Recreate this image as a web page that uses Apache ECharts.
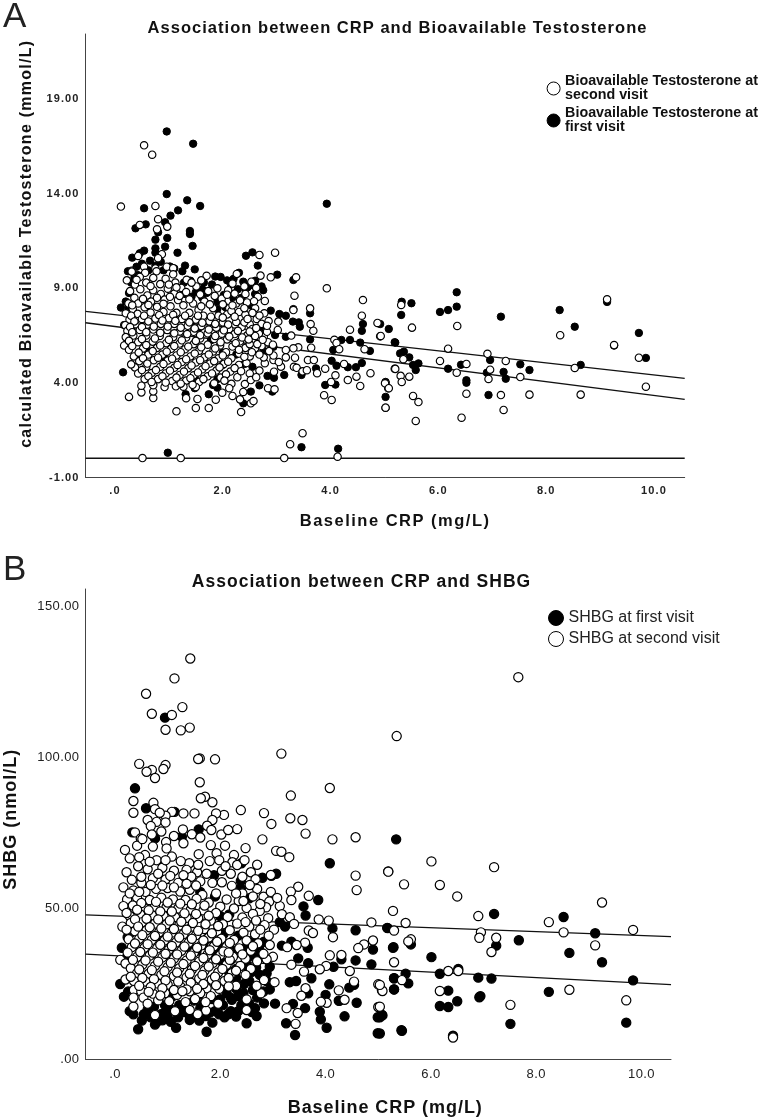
<!DOCTYPE html>
<html><head><meta charset="utf-8">
<style>html,body{margin:0;padding:0;background:#fff}#c{width:762px;height:1119px}</style>
<script src="https://cdn.jsdelivr.net/npm/echarts@6/dist/echarts.min.js"></script>
</head><body><div id="c"></div>
<script>
const xTicks=[0,2,4,6,8,10];
const yTicksA=[-1,4,9,14,19];
const yTicksB=[0,50,100,150];
const titleA='Association between CRP and Bioavailable Testosterone';
const titleB='Association between CRP and SHBG';
const nameAW='Bioavailable Testosterone at second visit';
const nameAB='Bioavailable Testosterone at first visit';
const nameBB='SHBG at first visit';
const nameBW='SHBG at second visit';
const lineAUpper=[[-0.547,7.78],[10.57,4.24]];
const lineALower=[[-0.547,7.18],[10.57,3.13]];
const lineAZero=[[-0.547,0.02],[10.57,0.02]];
const lineBUpper=[[-0.56,47.9],[10.56,40.7]];
const lineBLower=[[-0.56,34.9],[10.56,24.8]];

const blackA=[[.96,17.29],[1.45,16.64],[.96,13.98],[1.34,13.65],[1.58,13.35],[3.93,13.47],[.54,13.23],[1.17,13.12],[1.03,12.84],[.93,12.49],[.57,12.38],[.38,12.17],[1.39,12.03],[1.39,11.87],[.8,11.96],[.97,11.66],[.75,11.57],[1.44,11.24],[.93,11.2],[.75,11.11],[.54,10.99],[.46,10.85],[1.16,10.88],[.75,10.88],[.32,10.62],[.65,10.46],[2.43,10.72],[2.55,10.9],[2.65,10.2],[1.48,10],[.4,10.14],[.75,10.2],
[.98,.31],[3.46,.6],[4.14,.52],
[4.92,7.11],[5.08,6.85],[5.19,6.15],[5.29,5.56],[5.36,5.65],[5.46,5.35],[5.31,7.59],[5.32,8.29],[5.5,8.21],[5.53,4.95],[5.63,5.03],[5.58,4.68],[5.02,4.05],[5.02,3.26],[6.03,7.75],[6.18,7.85],[6.34,8.03],[6.34,8.79],[6.18,4.75],[6.42,4.96],[6.52,4.14],[6.52,4.01],[6.93,3.36],[6.9,4.54],[6.96,5.21],[7.16,7.5],[7.21,4.58],[7.25,4.22],[7.52,4.98],[7.69,4.68],[8.25,7.85],[8.53,6.97],[8.64,4.95],[9.13,8.28],[9.26,5.97],[9.72,6.64],[9.85,5.32],
[3.01,9.72],[3.31,9.44],[2.89,7.82],[3.05,7.64],[3.17,7.55],[3.31,7.9],[3.3,7.24],[3.43,6.97],[3.41,7.2],[3.62,7.68],[3.62,6.3],[3.17,6.44],[2.97,6.53],[2.94,5.91],[2.76,5.69],[2.75,6.97],[2.7,6.8],[5.2,6.13],[4.6,7.11],[4.58,6.75],[4.2,6.27],[4.36,6.27],[4.55,6.13],[4.05,5.74],[4.73,5.69],[4.02,5.17],[4.11,4.91],[4.32,4.83],[4.47,4.83],[4.58,5.05],[3.9,3.89],[4.09,3.91],[3.73,4.77],[3.46,4.42],[3.14,4.42],[2.95,4.27],[2.83,4.37],[2.68,3.87],[2.52,3.54],[2.92,3.54],[2.38,2.92],[1.74,3.4],[1.31,3.4],[1.48,3.72],[1.82,3.89],[1.9,3.75],[.71,3.92],[.15,4.56],[.11,7.98],[.17,7.06],
[2.3,9.82],[2.2,9.5],[2.38,9.35],[2.5,9.15],[2.46,9.05],[2.15,9.2],[1.86,9.62],[1.96,9.6],[1.8,9.2],[1.62,8.95],[1.5,8.8],[1.42,8.55],[1.62,8.5],[1.9,8.3],[2.02,8.65],[2.2,8.45],[2.35,8.5],[2.52,8.1],[2.05,8.0],[1.9,7.9],[.3,9.3],[.26,8.75],[.2,8.3],[.42,9.7],[.62,9.95],[1.1,10.05],[.9,9.95],[1.25,9.9],[.25,8.0],[.3,6.9],[.22,6.1],[.6,5.7],[1.42,7.05],[1.55,6.9],[.3,6.0],[.92,5.35],[1.48,4.3],[2.0,4.95],[1.78,6.25],[2.55,4.85],[2.4,5.0],[2.25,5.5],[1.9,4.2],[2.0,5.6],
[.24,9.9],[.5,10.3],[.85,10.4],[1.02,10.15],[1.3,10.2],[.36,9.55],[1.4,9.4],[1.65,9.3],[1.28,9.3],[2.08,9.42],[2.6,9.4],[2.72,9.1],[2.6,8.7],[2.75,8.9],[1.7,8.75],[1.3,8.7],[2.42,8.95],[2.28,8.95]];

const whiteA=[[.54,16.56],[.69,16.06],[.11,13.32],[.75,13.35],[.8,12.65],[.46,12.35],[.78,12.12],[.97,12.26],[2.97,10.88],[2.68,10.76],[.87,10.8],[.43,10.71],[.8,10.59],[.96,10.14],[1.08,10.06],[.54,10.14],[.75,10.05],[.31,9.93],
[.51,.03],[1.22,.03],[3.14,.03],[4.13,.1],[3.25,.76],[3.48,1.34],
[.26,3.26],[1.14,2.5],[1.5,2.67],[1.74,2.67],[2.34,2.46],[1.87,3.11],[1.53,3.15],[1.32,3.19],[2.18,3.31],[2.32,3.13],[2.52,2.92],[2.57,3.04],[1.99,3.48],[.49,3.5],[.71,3.2],[.71,3.55],[2.84,3.72],[2.96,3.66],[3.88,3.35],[4.02,3.1],[5.02,2.69],[5.07,3.72],[5.02,4.0],[4.55,3.84],[4.32,4.15],[4.48,4.33],[4.74,4.51],[4.09,4.4],[4.01,4.05],[4.25,5],[5.19,4.75],
[3.93,9],[4.6,8.38],[4.58,7.55],[4.87,7.17],[4.92,6.46],[4.36,6.81],[4.07,6.28],[4.11,6.11],[4.16,5.78],[4.63,5.78],[3.68,6.76],[3.63,7.11],[3.62,7.94],[3.33,8.61],[3.36,9.58],[3.31,7.85],[2.78,8.33],[2.77,7.68],[3.03,7.24],[2.85,7.27],[3.02,6.8],[3.27,6.5],[2.76,6.44],[2.7,9.67],[2.89,9.58],
[3.4,5.88],[3.31,5.83],[3.17,5.74],[3.64,5.86],[3.17,5.35],[3.34,5.33],[3.58,5.21],[3.69,5.21],[3.32,4.85],[3.37,4.8],[3.48,4.61],[3.56,4.67],[3.75,4.51],[3.9,4.75],[3.08,4.86],[2.95,4.59],[2.94,5.21],[3.04,5.1],[2.94,5.45],[2.78,5.04],[2.76,5.35],[2.68,4.65],[2.6,5.83],[2.44,5.05],[2.41,3.94],[2.27,4.3],
[4.93,6.48],[5.51,6.92],[5.31,8.12],[5.35,5.25],[5.2,4.74],[5.3,4.37],[5.46,4.33],[5.32,4.05],[5.01,3.98],[5.08,3.72],[5.53,3.31],[5.63,2.99],[5.02,2.69],[5.58,1.99],[6.35,7.01],[6.18,5.81],[6.03,5.16],[6.52,5],[6.34,4.54],[6.52,3.43],[6.43,2.16],[6.91,5.54],[7.25,5.16],[6.96,4.7],[6.93,4.21],[7.52,4.31],[7.16,3.36],[7.69,3.38],[7.21,2.57],[8.26,6.52],[8.53,4.79],[8.64,3.38],[9.13,8.42],[9.26,6],[9.72,5.33],[9.85,3.8],
[.31,9.88],[.56,9.82],[.77,9.9],[1.08,9.74],[.46,9.6],[.71,9.55],[.94,9.5],[.22,9.42],[.37,9.2],[.58,9.3],[.84,9.22],[1.12,9.3],[1.33,9.45],[1.7,9.66],[2.26,9.76],[2.53,9.35],[1.51,9.1],[1.23,9.02],[.98,8.98],[.71,8.9],[.47,8.95],[.28,8.85],[.36,8.5],[.6,8.62],[.85,8.7],[1.1,8.72],[1.32,8.8],[1.73,8.85],[2.1,8.9],[2.42,8.7],[2.65,8.55],[2.25,8.2],[2.45,8.25],[2.6,7.95],[.25,8.2],[.43,8.2],[.67,8.3],[.92,8.4],[1.17,8.38],[1.45,8.2],[1.66,8.3],[1.98,8.45],[.33,7.9],[.55,8],[.78,8.02],[1.03,8.05],[1.27,8.1],[1.55,7.85],[1.82,7.95],[2.12,7.95],[2.3,7.75],[.2,7.68],[.42,7.65],[.66,7.72],[.9,7.75],[1.14,7.7],[1.38,7.7],[1.64,7.55],[1.92,7.55],[2.08,7.62],[2.42,7.6],[.27,7.35],[.5,7.38],[.75,7.4],[1,7.42],[1.24,7.38],[1.5,7.35],[1.75,7.25],[2.0,7.2],[2.25,7.22],[2.5,7.1],[2.63,7.38],[.19,7.05],[.38,7.1],[.6,7.08],[.85,7.12],[1.1,7.12],[1.35,7.02],[1.6,7],[1.88,6.92],[2.12,6.85],[2.35,6.95],[2.55,6.85],[.23,6.75],[.46,6.8],[.71,6.82],[.97,6.8],[1.2,6.72],[1.46,6.7],[1.72,6.62],[1.98,6.6],[2.22,6.58],[2.45,6.5],[2.67,6.6],[.2,6.42],[.34,6.5],[.58,6.5],[.83,6.48],[1.08,6.42],[1.32,6.4],[1.58,6.35],[1.84,6.32],[2.08,6.3],[2.32,6.2],[2.58,6.25],[.17,5.98],[.43,6.15],[.7,6.18],[.95,6.1],[1.2,6.08],[1.46,6.05],[1.72,6.02],[1.95,5.98],[2.18,5.92],[2.42,5.85],[.26,5.75],[.52,5.82],[.78,5.85],[1.04,5.8],[1.3,5.78],[1.56,5.7],[1.82,5.66],[2.06,5.62],[2.3,5.55],[.35,5.4],[.62,5.5],[.88,5.5],[1.14,5.45],[1.4,5.4],[1.66,5.35],[1.92,5.3],[2.16,5.3],[2.5,5.4],[.45,5.15],[.72,5.2],[.98,5.18],[1.24,5.1],[1.5,5.08],[1.76,5.02],[2.02,5],[2.3,4.95],[.37,4.82],[.58,4.85],[.84,4.85],[1.1,4.8],[1.36,4.78],[1.62,4.72],[1.88,4.65],[2.14,4.6],[2.5,4.5],[.43,4.5],[.68,4.52],[.94,4.5],[1.2,4.42],[1.46,4.4],[1.72,4.35],[1.96,4.28],[.55,4.2],[.8,4.2],[1.06,4.1],[1.32,4.12],[1.56,4.05],[1.84,3.98],[.49,3.85],[.71,3.88],[.92,3.78],[1.13,3.82],[1.27,3.8],[1.5,3.78],
[.4,9.45],[.66,9.12],[1.0,9.2],[1.2,8.6],[.52,8.44],[.78,8.5],[1.02,8.55],[.32,8.1],[.62,8.12],[.9,8.18],[1.38,8.42],[1.6,8.05],[1.76,8.15],[2.0,8.15],[2.16,7.8],[.3,7.55],[.54,7.55],[.82,7.58],[1.08,7.6],[1.3,7.55],[1.54,7.55],[1.78,7.5],[2.0,7.45],[2.22,7.5],[.36,7.25],[.62,7.25],[.88,7.3],[1.12,7.28],[1.38,7.2],[1.62,7.18],[1.86,7.12],[2.1,7.08],[2.4,7.2],[.28,6.95],[.5,6.95],[.72,6.98],[.98,6.98],[1.22,6.92],[1.48,6.88],[1.74,6.82],[2.02,6.78],[2.28,6.75],[.32,6.68],[.58,6.68],[.84,6.65],[1.1,6.62],[1.34,6.58],[1.58,6.52],[1.86,6.48],[2.12,6.45],[2.36,6.4],[.26,6.22],[.5,6.32],[.74,6.35],[1.0,6.28],[1.24,6.25],[1.5,6.22],[1.96,6.15],[2.24,6.1],[2.5,6.05],[.32,5.95],[.58,6],[.84,5.98],[1.1,5.95],[1.36,5.92],[1.6,5.88],[1.86,5.82],[2.3,5.75],[.44,5.6],[.7,5.68],[.96,5.65],[1.22,5.62],[1.48,5.55],[1.74,5.5],[2.0,5.45],[2.4,5.38],[.52,5.3],[.8,5.33],[1.06,5.28],[1.32,5.25],[1.58,5.2],[1.84,5.15],[2.1,5.12],[.3,4.98],[.6,5.02],[.9,5.0],[1.16,4.95],[1.42,4.92],[1.68,4.88],[1.94,4.82],[2.22,4.78],[.5,4.68],[.76,4.68],[1.02,4.65],[1.28,4.6],[1.54,4.55],[1.8,4.5],[2.06,4.45],[.62,4.35],[.88,4.35],[1.14,4.28],[1.4,4.25],[1.64,4.2],[.68,4.05],[.94,4.02],[1.22,3.96],[1.44,3.9],
[2.03,4.12],[2.16,3.95],[2.34,4.62],[2.52,4.15],[2.38,3.52],[2.62,4.3],[2.12,3.72],[2.86,5.68],[2.68,5.5],[2.54,5.62],[2.72,5.95],[2.84,6.15],[2.64,6.05],[2.48,6.3],[2.74,6.28],[2.93,6.02],[2.6,6.48],[2.82,6.7],[2.5,6.72],[2.72,7.12],[2.62,6.9],[2.82,7.02],[2.46,7.38],[2.68,7.56],[2.55,7.7],[2.4,7.95],[2.18,8.1],[2.32,8.36],[2.08,8.66],[2.22,8.72],[1.85,8.6],[1.58,8.68],[1.9,9.0],[2.18,9.25],[1.42,9.3],[1.14,9.05],[2.58,8.32],[2.4,9.1],[2.62,9.02],[1.6,9.42]];

const blackB=[[.95,113.2],[.38,89.8],[.59,83.2],[1.13,82],[1.59,76.2],[1.27,73.8],[.76,73.2],[.33,75.2],[5.34,72.9],
[.44,10],[.76,11.6],[.51,12.9],[.35,15],[.28,16],[1.16,10.5],[1.06,12.5],[.9,13],[1.74,9.2],[1.42,13.1],[1.6,12.9],[1.85,12.2],[1.98,15],[1.27,15.7],[.87,15],[2.5,12],[2.69,14.4],[2.2,16],[2.34,16],[2.6,15.7],[2.83,18.6],[3.04,18.5],[2.22,19.8],[2.34,21],[2.44,22],[2.3,23.5],[2.2,20.5],[2.05,18],[1.9,16],[1.62,17],[1.5,19.5],[.74,17.5],[1.07,16.5],[.62,16.5],[.95,15.5],[1.68,18.5],[1.4,15],
[3.25,12],[3.42,8.1],[3.38,18.4],[3.61,17],[3.89,15.8],[3.91,13.3],[4.02,10.5],[4.26,19.4],[4.36,14.3],[4.59,18.8],[4.99,8.7],[4.99,14],[5.07,14.8],[5.44,9.7],
[4.08,65],[3.06,61.5],[2.97,60.8],[2.8,60.2],[2.39,59.1],[2.39,56.6],[2.55,53.4],[3.86,52.8],[3.58,50.7],[3.62,47.7],[3.13,45.5],[3.23,44],[4.13,43.4],[4.57,42.8],[5.17,43.6],[4.9,36.4],[5.29,37.2],[4.57,32.8],[4.87,31.5],[4.3,33.2],[4.15,30.7],[3.67,31.9],[3.48,33.5],[3.17,37.7],[3.35,39],[3.66,37],[2.83,39],[2.75,34],[2.6,34.2],[2.94,30.7],[2.88,28.5],[2.75,28],[2.94,23.2],[5.3,26.9],[5.3,23.2],[4.54,24.7],[4.45,23.8],[4.07,24.9],[4,21.4],[4.25,19.5],[3.73,26.9],[3.67,21.9],[3.32,25.6],[3.44,26],[.1,25],[.17,20.8],[.13,37],[.21,33.5],[.24,40.5],
[2.17,48],[2,47.5],[1.9,54],[1.62,55.5],[1.3,59.5],[1.88,61],[2.4,65],[1.42,37],[1.55,36],[1.9,34],[2.3,30],[2.55,26],[2.3,27],[2.05,32],[1.75,40],[.62,45],[.3,42],[.9,40],
[7.2,48.2],[8.52,47.2],[5.18,43.5],[5.28,37],[5.62,38.1],[7.24,37.7],[7.67,39.5],[9.12,41.8],[8.63,35.3],[9.25,32.2],[6.01,33.9],[6.17,28.4],[5.52,28.4],[5.3,26.9],[5.57,25.2],[5.3,23.2],[6.9,27.1],[7.15,26.8],[9.84,26.2],[6.33,22.8],[8.24,22.4],[6.5,19.3],[6.17,17.7],[6.33,17.4],[6.94,21],[6.92,20.6],[5.08,14.6],[5.03,14],[5.45,9.5],[5.03,8.6],[7.51,11.8],[9.71,12.2],[6.42,7.9],[6.52,30],
[.55,15],[.68,14],[.82,12.8],[1.0,14.2],[1.2,14],[1.32,15.8],[1.52,14.2],[1.72,14.4],[1.8,15.5],[2.08,14],[2.15,15],[2.3,14.2],[2.4,18],[2.55,18.5],[2.66,17],[2.12,22],[2.0,20],[2.45,25],[2.62,23],[2.7,20.5],[2.82,22.5],[2.88,26],[2.6,29],[2.45,31],[2.2,33],[1.95,36],[1.68,38],[.95,18],[1.22,18],[1.6,21.5],[1.85,20],[1.1,21],[.25,22.5],
[2.06,41.5],[2.34,41],[2.62,39.5],[2.48,37],[2.74,36.5],[2.02,37],[2.28,36],[2.5,31.5],[2.68,30.5],[2.14,29.5]];

const whiteB=[[1.43,132.8],[1.13,126.2],[.59,121.1],[1.28,116.7],[1.08,114.1],[.7,114.5],[1.42,109.9],[1.25,109],[.96,109.2],[3.16,101.3],[1.61,99.7],[1.58,99.5],[1.9,99.4],[.46,97.9],[.96,97.5],[.92,96.2],[.7,95.9],[.6,95.3],[.76,93.2],[1.61,91.8],[4.08,89.9],[3.34,87.4],[1.71,87],[1.63,86.5],[1.85,85.2],[.35,85.6],[.73,85],[.76,82.9],[2.39,82.6],[2.83,81.6],[2.07,81],[1.92,81.5],[1.51,81.5],[1.3,81.5],[1.08,82],[.35,81.7],[.96,80.7],[.85,81.7],[.62,79.3],[.79,78.7],[.96,78.5],[.68,77.3],[3.33,79.9],[3.56,79.3],[2.97,78],[1.85,79.3],[1.75,77.4],[1.83,76],[2.32,76.3],[1.29,76.2],[1.46,74.6],[.38,75.2],[3.62,74.8],[4.57,73.6],[4.13,72.9],[2.8,72.9],[.49,73.2],[.97,72],
[3.06,69.1],[3.16,68.8],[3.31,67],[2.09,70.8],[1.82,71],[1.93,68.3],[1.59,68],[2.26,67.7],[2.23,65.3],[2.32,64.4],[1.8,65.7],[1.41,65],[1.25,65.7],[.28,66.6],[.19,69.4],[.42,70.8],[.57,67.7],[.72,70.5],[.98,69.9],[1.08,67.2],[.79,66],[1.3,71.6],
[2.58,62],[2.67,59.7],[2.96,61.1],[2.03,62.5],[2.2,61.5],[2.03,58.7],[4.57,60.9],[4.59,56.1],[5.19,62.3],[3.48,57.2],[3.34,55.6],[3.68,54.2],[3.35,52.8],[2.82,53.9],[2.93,52.3],[2.87,50.4],[3.13,50.8],[2.75,49.2],[3.17,48.1],[3.32,47.1],[2.91,46.8],[3.4,44.9],[3.87,46.4],[4.06,46],[4.87,45.4],[5.28,49.2],[5.3,42.7],[3.68,42.7],[3.76,41.9],[4.14,40.5],[4.9,39.4],[4.73,38.1],[4.62,36.9],[3.61,38.7],[3.45,37.9],[3.27,37.2],[2.94,37.9],[4.08,34.5],[4.3,34.6],[3,34],[2.88,33.2],[3.35,31.4],[5.3,32.2],[4.01,31],[3.89,29.9],[3.59,29.1],[4.46,29.3],[4.54,25.8],[5,24.9],[5.07,22.9],[4.25,22.9],[4.36,19.8],[4.02,18.8],[3.91,19.1],[5,17.4],[3.26,17],[3.47,15.4],[3.43,11.8],[3.62,23.6],[3.54,21.1],[3.03,25.6],[2.83,26.3],[2.77,21.9],[2.69,24.4],[2.5,19.9],[2.5,16.4],[1.73,16.2],[1.57,15],[1.42,16.4],[1.34,19],[.76,14.7],[1.03,19.3],[.35,17.5],
[7.66,126.6],[5.35,107.1],[5.19,62.2],[6.01,65.6],[7.2,63.7],[5.49,58],[6.17,57.8],[6.5,54],[5.52,45.2],[5.62,39.8],[5.57,39.1],[6.9,47.5],[6.95,42.1],[6.92,40.3],[7.24,40.3],[7.15,35.6],[8.24,45.5],[8.52,42.1],[9.25,52],[9.12,37.8],[9.84,42.9],[6.33,29.3],[6.52,29.3],[5.45,26.3],[6.17,22.7],[5.08,22.7],[5.03,24.7],[5.03,17.5],[8.63,23.1],[7.51,18.1],[9.71,19.6],[6.42,7.3],
[.22,62],[.44,64],[.62,63],[.9,63.5],[1.12,62.5],[1.36,62.8],[1.56,62],[1.74,61.5],[1.45,60.5],[.32,59.5],[.5,58.5],[.72,60],[.96,59.6],[1.2,58.5],[1.62,59],[1.85,58.5],[2.22,57.5],[2.42,55],[.16,57],[.35,56],[.58,55.5],[.78,56.5],[1,56.8],[1.24,55.6],[1.42,56.2],[1.66,54.5],[1.92,55],[2.12,53],[2.35,52.5],[.23,53],[.42,53.6],[.66,52.8],[.88,53.6],[1.1,53],[1.34,52.8],[1.55,53.2],[1.78,52],[2,50.6],[2.26,50],[2.5,50.2],[.16,50.8],[.34,51],[.55,50.2],[.76,50.6],[.98,50.5],[1.2,50],[1.44,49.6],[1.68,49.4],[1.92,48.5],[2.14,47.2],[2.42,47],[2.62,48.2],[.28,47.5],[.48,48],[.7,47.8],[.92,47.6],[1.14,47.2],[1.36,46.9],[1.58,46.8],[1.82,46],[2.05,44.8],[2.32,45],[2.55,44],[.14,44],[.3,45.2],[.52,45.5],[.76,45],[.98,44.8],[1.22,44.4],[1.46,44],[1.7,43.2],[1.94,42.4],[2.18,42.8],[2.44,42],[2.66,41.5],[.38,42.5],[.6,42.8],[.84,42.2],[1.08,42],[1.3,41.5],[1.54,41.2],[1.78,40.4],[2.02,40],[2.26,39.6],[2.5,39.4],[2.72,38.5],[.26,39.8],[.46,40],[.7,39.6],[.94,39.4],[1.16,38.8],[1.4,38.7],[1.64,37.8],[1.88,37.5],[2.12,37.3],[2.36,36.8],[2.58,36],[.32,37.2],[.56,37],[.8,36.8],[1.02,36.3],[1.26,36],[1.5,35.4],[1.76,34.8],[2,34.6],[2.24,34],[2.48,33.4],[2.7,32.5],[.1,33],[.2,31.8],[.42,34],[.66,34.4],[.9,33.8],[1.12,33.4],[1.36,32.8],[1.6,32.4],[1.86,32],[2.12,31.4],[2.38,31],[2.58,30],[.3,30.2],[.52,31.4],[.76,31],[1,30.6],[1.22,30.2],[1.46,29.8],[1.7,29.4],[1.96,28.8],[2.22,28.6],[2.48,28],[.42,28.6],[.64,28.4],[.88,28],[1.12,27.6],[1.36,27.2],[1.6,26.8],[1.84,26.4],[2.08,26],[.2,26.5],[.36,26],[.58,25.8],[.8,25.2],[1,24.8],[1.24,24.2],[1.5,24.2],[1.74,23.6],[1.98,23.4],[2.3,24.4],[.36,23],[.5,22.5],[.72,21.8],[.95,22],[1.18,21.4],[1.42,22.6],[1.62,22],[1.82,21],[.35,20.5],[.54,20.5],[.82,19.6],
[.5,60.5],[.82,61.5],[1.05,60.8],[1.3,61],[.28,55],[.46,55.5],[.68,57.8],[.9,57.6],[1.12,57],[1.36,58.2],[1.54,57.6],[.5,51.8],[.78,52.2],[1,52],[1.24,51.6],[1.46,51.4],[1.7,51],[.22,48.5],[.42,49.6],[.64,49.4],[.86,49],[1.08,49],[1.32,48.4],[1.54,48.2],[1.78,47.6],[.38,46.4],[.6,46.6],[.82,46.4],[1.04,46],[1.26,45.6],[1.48,45.2],[1.72,44.8],[1.96,44.2],[.22,43],[.44,44],[.66,43.8],[.88,43.4],[1.12,43.2],[1.36,43],[1.58,42.6],[1.84,41.8],[.52,41.2],[.76,40.9],[1,40.7],[1.22,40.4],[1.46,40],[1.68,39.4],[1.94,39],[2.18,38.6],[.38,38.4],[.62,38.2],[.86,38],[1.08,37.6],[1.32,37.4],[1.56,37],[1.8,36.2],[2.06,35.8],[.24,35.4],[.48,35.6],[.72,35.4],[.96,35],[1.18,34.8],[1.44,34.4],[1.68,33.6],[1.92,33.2],[2.18,33],[.34,33],[.58,32.8],[.82,32.4],[1.06,32],[1.3,31.6],[1.52,31],[1.78,30.8],[2.04,30],[2.3,29.4],[.46,29.8],[.7,29.6],[.94,29.2],[1.18,28.8],[1.42,28.4],[1.66,28],[1.9,27.4],[2.16,27],[.3,27.4],[.52,27],[.74,26.6],[.96,26.2],[1.2,25.8],[1.44,25.4],[1.68,25],[1.92,24.6],[2.16,24.2],[.46,24.4],[.68,24],[.9,23.6],[1.12,23],[1.36,23.2],[1.56,23.4],[.64,22.4],[.86,21.2],[1.28,22.6],
[.52,73],[.7,74.5],[1.12,74],[.88,75.5],[1.62,73.5],[2.02,74.5],[2.15,76],[2.48,70],[.46,67],[.66,65.5],[.96,66],[1.58,64.5],[1.98,66],[2.46,66],[2.7,64.5],[2.1,64],[2.42,60.5],[2.7,56.5],[2.56,57.8],[2.3,55],[2.62,54],[2.76,51.5],[2.44,52.5],[2.96,55.5],[3.08,53.5],[2.68,46],[2.84,44.5],[3.02,43],[2.76,43],[2.48,45.5],[2.62,37.5],[2.92,41],[2.82,35],[2.42,34.8],[2.16,35.4],[1.52,20],[1.14,16],[1.72,19],[1.96,18.5],[.62,18.5]];

// Wider tracking of the reference's stretched type.
const baseFillText=CanvasRenderingContext2D.prototype.fillText;
CanvasRenderingContext2D.prototype.fillText=function(t,x,y,m){
  let s=0;const str=String(t);
  if(/^[-\d.]+$/.test(str)) s=this.font.includes('bold')?1.1:.4;
  else if(str===titleA) s=1.03;
  else if(str===titleB) s=1;
  else if(str.startsWith('calculated')) s=1.25;
  else if(str.startsWith('Baseline')) s=this.font.includes('18')?.95:1.5;
  else if(str.startsWith('SHBG (')) s=1;
  this.letterSpacing=s+'px';
  return baseFillText.call(this,t,x,y,m);
};

const font='"Liberation Sans", Arial, sans-serif';
const fmtX=v=>v===0?'.0':v.toFixed(1);
const fmtY=v=>v===0?'.00':v.toFixed(2);
function xAxis(i,min,max,size,weight,gap,nameSize,pad,margin){return{gridIndex:i,type:'value',min,max,name:'Baseline CRP (mg/L)',nameLocation:'middle',nameGap:gap,
  nameTextStyle:{fontFamily:font,fontWeight:'bold',fontSize:nameSize,color:'#111',padding:[0,0,0,pad]},
  axisLine:{show:true,onZero:false,lineStyle:{color:'#444',width:1}},axisTick:{show:false},splitLine:{show:false},
  axisLabel:{customValues:xTicks,formatter:fmtX,margin,fontFamily:font,fontSize:size,fontWeight:weight,color:'#222'}};}
function yAxis(i,min,max,ticks,size,weight,name,gap,nameSize,pad,labelPad){return{gridIndex:i,type:'value',min,max,name,nameLocation:'middle',nameGap:gap,
  nameTextStyle:{fontFamily:font,fontWeight:'bold',fontSize:nameSize,color:'#111',padding:[0,0,0,pad]},
  axisLine:{show:true,onZero:false,lineStyle:{color:'#444',width:1}},axisTick:{show:false},splitLine:{show:false},
  axisLabel:{customValues:ticks,formatter:fmtY,margin:6,padding:[labelPad,0,0,0],fontFamily:font,fontSize:size,fontWeight:weight,color:'#222'}};}
const line=(i,data)=>({type:'line',xAxisIndex:i,yAxisIndex:i,data,symbol:'none',silent:true,z:1,lineStyle:{color:'#111',width:1.4}});
const dots=(i,name,data,size,fill,bw,z)=>({type:'scatter',name,xAxisIndex:i,yAxisIndex:i,data,symbolSize:size,z,silent:true,
  itemStyle:{color:fill,borderColor:'#000',borderWidth:bw,opacity:1}});
const legendItem=(name,fill,bw)=>({name,icon:'circle',itemStyle:{color:fill,borderColor:'#000',borderWidth:bw}});

const chart=echarts.init(document.getElementById('c'),null,{renderer:'canvas'});
chart.setOption({
  animation:false,backgroundColor:'#fff',
  title:[
    {text:'A',left:3,top:0,padding:0,textStyle:{fontFamily:font,fontSize:35,fontWeight:'normal',color:'#222'}},
    {text:'B',left:3,top:553,padding:0,textStyle:{fontFamily:font,fontSize:35,fontWeight:'normal',color:'#222'}},
    {text:titleA,left:397.5,top:20,padding:0,textAlign:'center',textStyle:{fontFamily:font,fontSize:16.5,fontWeight:'bold',color:'#111'}},
    {text:titleB,left:361.5,top:573,padding:0,textAlign:'center',textStyle:{fontFamily:font,fontSize:17.5,fontWeight:'bold',color:'#111'}}
  ],
  legend:[
    {left:546.6,top:74.5,padding:0,orient:'vertical',itemWidth:13,itemHeight:13,itemGap:4,selectedMode:false,
     data:[legendItem(nameAW,'#fff',1),legendItem(nameAB,'#000',1)],
     formatter:n=>n.replace(' at ',' at\n'),
     textStyle:{fontFamily:font,fontSize:14.3,fontWeight:'bold',color:'#111',lineHeight:14}},
    {left:548,top:610,padding:0,orient:'vertical',itemWidth:15,itemHeight:15,itemGap:5,selectedMode:false,
     data:[legendItem(nameBB,'#000',1),legendItem(nameBW,'#fff',1)],
     textStyle:{fontFamily:font,fontSize:16,color:'#222'}}
  ],
  grid:[
    {left:85.5,top:34,width:599.2,height:443.5,containLabel:false,outerBoundsMode:'none'},
    {left:85.5,top:589,width:585.5,height:470.5,containLabel:false,outerBoundsMode:'none'}
  ],
  xAxis:[xAxis(0,-0.547,10.57,11,'bold',35,16.5,20,8),xAxis(1,-0.56,10.56,13,'normal',40,18,14,8)],
  yAxis:[yAxis(0,-1,22.44,yTicksA,11,'bold','calculated Bioavailable Testosterone (mmol/L)',51,16,24,4),
         yAxis(1,0,155.8,yTicksB,13,'normal','SHBG (nmol/L)',65,18,10,8)],
  series:[
    line(0,lineAUpper),line(0,lineALower),line(0,lineAZero),
    line(1,lineBUpper),line(1,lineBLower),
    dots(0,nameAB,blackA,7.4,'#000',1,2),
    dots(0,nameAW,whiteA,7.4,'#fff',1.15,3),
    dots(1,nameBB,blackB,9.2,'#000',1.2,2),
    dots(1,nameBW,whiteB,9.2,'#fff',1.2,3)
  ]
});
</script></body></html>
